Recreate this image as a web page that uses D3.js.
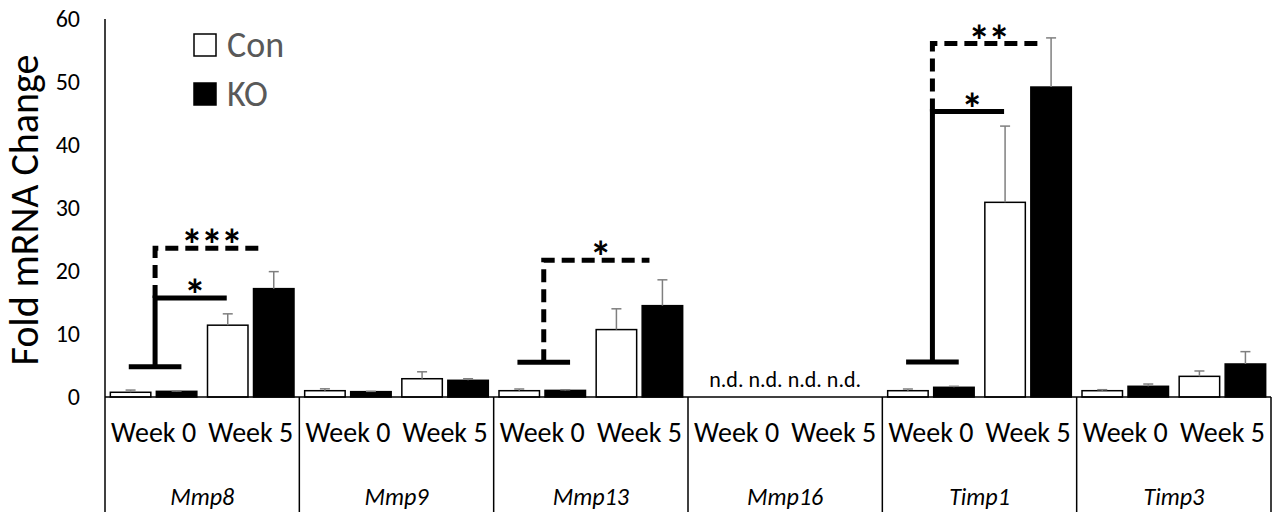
<!DOCTYPE html>
<html>
<head>
<meta charset="utf-8">
<script src="https://cdn.jsdelivr.net/npm/d3@7"></script>
<style>
  body { margin: 0; background: #fff; }
  text { font-family: Calibri, Carlito, "Open Sans", sans-serif; }
</style>
</head>
<body>
<div id="chart"></div>
<script>
// data (null = n.d.)
var genes = ["Mmp8", "Mmp9", "Mmp13", "Mmp16", "Timp1", "Timp3"];
var weeks = ["Week 0", "Week 5"];
var groups = ["Con", "KO"];

var conW0    = [0.75, 1.0, 1.0, null, 1.0, 1.0];
var conW0Err = [0.35, 0.3, 0.27, null, 0.27, 0.16];
var koW0     = [0.9, 0.85, 1.05, null, 1.54, 1.7];
var koW0Err  = [0.05, 0.05, 0.1, null, 0.16, 0.36];
var conW5    = [11.4, 2.9, 10.7, null, 30.9, 3.28];
var conW5Err = [1.8, 1.1, 3.3, null, 12.1, 0.85];
var koW5     = [17.2, 2.65, 14.5, null, 49.2, 5.24];
var koW5Err  = [2.7, 0.25, 4.1, null, 7.8, 1.96];

var yTicks = [0, 10, 20, 30, 40, 50, 60];

// significance brackets (week 0 pair vs a week 5 bar)
var sigGene   = ["Mmp8", "Mmp8", "Mmp13", "Timp1", "Timp1"];
var sigStyle  = ["solid", "dashed", "dashed", "solid", "dashed"];
var sigTarget = ["Con", "KO", "KO", "Con", "KO"];
var sigBase   = [4.8, 4.8, 5.5, 5.55, 5.55];
var sigLevel  = [15.7, 23.6, 21.7, 45.3, 56.1];
var sigLabel  = ["*", "***", "*", "*", "**"];

var W = 1278, H = 512;
var left = 105, right = 1271, yTop = 19, base = 397;

var svg = d3.select("#chart").append("svg")
    .attr("width", W)
    .attr("height", H);

var x0 = d3.scaleBand().domain(genes).range([left, right]);
var x1 = d3.scaleBand().domain(weeks).range([0, x0.bandwidth()]);
var x2 = d3.scaleBand().domain(groups).range([0, x1.bandwidth()])
    .paddingInner(0.12).paddingOuter(0.116);
var y = d3.scaleLinear().domain([0, 60]).range([base, yTop]);

// flatten into bar records
var bars = [];
genes.forEach(function(g, i) {
  bars.push({gene: g, week: "Week 0", group: "Con", v: conW0[i], e: conW0Err[i]});
  bars.push({gene: g, week: "Week 0", group: "KO", v: koW0[i], e: koW0Err[i]});
  bars.push({gene: g, week: "Week 5", group: "Con", v: conW5[i], e: conW5Err[i]});
  bars.push({gene: g, week: "Week 5", group: "KO", v: koW5[i], e: koW5Err[i]});
});
function bx(d) { return x0(d.gene) + x1(d.week) + x2(d.group); }

// bars
var shown = bars.filter(function(d) { return d.v != null; });
svg.append("g").selectAll("rect")
    .data(shown)
    .enter().append("rect")
    .attr("x", bx)
    .attr("y", function(d) { return y(d.v); })
    .attr("width", x2.bandwidth())
    .attr("height", function(d) { return y(0) - y(d.v); })
    .attr("fill", function(d) { return d.group == "KO" ? "#000" : "#fff"; })
    .attr("stroke", "#000")
    .attr("stroke-width", 1.5);

// error bars (upper only)
var eb = svg.append("g").attr("stroke", "#7f7f7f").attr("stroke-width", 1.5);
shown.forEach(function(d) {
  var cx = bx(d) + x2.bandwidth() / 2;
  eb.append("line").attr("x1", cx).attr("x2", cx)
    .attr("y1", y(d.v)).attr("y2", y(d.v + d.e));
  eb.append("line").attr("x1", cx - 5).attr("x2", cx + 5)
    .attr("y1", y(d.v + d.e)).attr("y2", y(d.v + d.e));
});

// n.d. labels
genes.forEach(function(g, i) {
  var nd = bars.filter(function(d) { return d.gene == g && d.v == null; });
  if (!nd.length) return;
  svg.append("text")
    .attr("x", x0(g) + x0.bandwidth() / 2)
    .attr("y", base - 10)
    .attr("text-anchor", "middle")
    .style("font-size", "22px")
    .text(nd.map(function() { return "n.d."; }).join(" "));
});

// axes
svg.append("line").attr("x1", left).attr("x2", left).attr("y1", yTop).attr("y2", H)
  .attr("stroke", "#000").attr("stroke-width", 1.5);
svg.append("line").attr("x1", left).attr("x2", right).attr("y1", base).attr("y2", base)
  .attr("stroke", "#000").attr("stroke-width", 1.5);
genes.forEach(function(g) {
  var xe = x0(g) + x0.bandwidth();
  svg.append("line").attr("x1", xe).attr("x2", xe).attr("y1", base).attr("y2", H)
    .attr("stroke", "#000").attr("stroke-width", 1.5);
});

var yAxis = svg.append("g")
    .attr("transform", "translate(" + left + ",0)")
    .call(d3.axisLeft(y).tickValues(yTicks).tickSize(0).tickPadding(25));
yAxis.select(".domain").remove();
yAxis.selectAll("text")
    .style("font-family", 'Calibri, Carlito, "Open Sans", sans-serif')
    .style("font-size", "24px")
    .attr("fill", "#000");

svg.append("text")
    .attr("transform", "translate(38," + ((yTop + base) / 2 + 2) + ") rotate(-90)")
    .attr("text-anchor", "middle")
    .style("font-size", "40px")
    .text("Fold mRNA Change");

// category labels
genes.forEach(function(g) {
  weeks.forEach(function(w) {
    svg.append("text")
      .attr("x", x0(g) + x1(w) + x1.bandwidth() / 2)
      .attr("y", 442)
      .attr("text-anchor", "middle")
      .style("font-size", "28px")
      .text(w);
  });
  svg.append("text")
    .attr("x", x0(g) + x0.bandwidth() / 2)
    .attr("y", 505)
    .attr("text-anchor", "middle")
    .style("font-size", "24px")
    .style("font-style", "italic")
    .text(g);
});

// significance brackets
var sg = svg.append("g").attr("fill", "none").attr("stroke", "#000").attr("stroke-width", 5);
genes.forEach(function(g) {
  var idx = sigGene.map(function(s, i) { return s == g ? i : -1; })
    .filter(function(i) { return i >= 0; })
    .sort(function(a, b) { return sigLevel[a] - sigLevel[b]; });
  if (!idx.length) return;
  var vx = x0(g) + x1("Week 0") + x1.bandwidth() / 2 + 1.5;
  var half = x2.bandwidth() * 0.65;
  sg.append("line").attr("x1", vx - half).attr("x2", vx + half)
    .attr("y1", y(sigBase[idx[0]])).attr("y2", y(sigBase[idx[0]]));
  var from = sigBase[idx[0]];
  idx.forEach(function(i) {
    var tx = x0(g) + x1("Week 5") + x2(sigTarget[i]);
    var xEnd = sigStyle[i] == "solid" ? tx + x2.bandwidth() / 2 - 1 : tx + x2.bandwidth() * 0.18;
    sg.append("path")
      .attr("d", "M" + vx + "," + y(from) + "V" + y(sigLevel[i]) + "H" + xEnd)
      .attr("stroke-dasharray", sigStyle[i] == "dashed" ? "13,7" : null);
    svg.append("text")
      .attr("x", (vx + xEnd) / 2 + 3)
      .attr("y", y(sigLevel[i]) + 12)
      .attr("text-anchor", "middle")
      .style("font-size", "44px")
      .style("font-weight", "bold")
      .style("letter-spacing", "-2px")
      .text(sigLabel[i]);
    from = sigLevel[i];
  });
});

// legend
var lg = svg.append("g");
groups.forEach(function(gr, i) {
  lg.append("rect")
    .attr("x", 194).attr("y", 34 + i * 49)
    .attr("width", 22).attr("height", 22)
    .attr("fill", gr == "KO" ? "#000" : "#fff")
    .attr("stroke", "#000").attr("stroke-width", 1.5);
  lg.append("text")
    .attr("x", 227).attr("y", 57 + i * 49)
    .attr("fill", "#595959")
    .style("font-size", "36px")
    .text(gr);
});
</script>
</body>
</html>
